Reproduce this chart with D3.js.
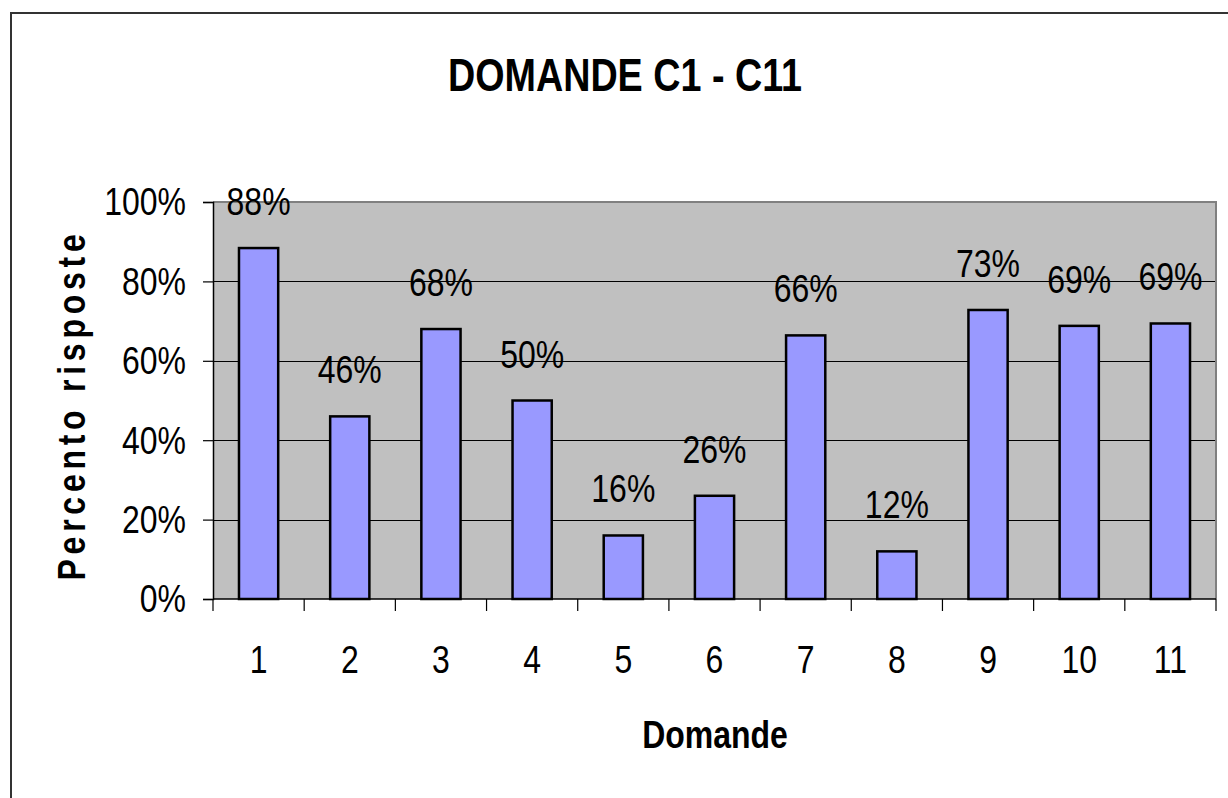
<!DOCTYPE html>
<html><head><meta charset="utf-8">
<script src="https://cdn.jsdelivr.net/npm/d3@7"></script>
<style>
body{margin:0;background:#fff;}
svg{display:block;}
</style></head>
<body><svg id="c" width="1228" height="798"></svg>
<script>
const categories = ["1","2","3","4","5","6","7","8","9","10","11"];
const values = [0.884, 0.46, 0.68, 0.50, 0.16, 0.26, 0.664, 0.12, 0.728, 0.688, 0.694];
const yTicks = [0, 0.2, 0.4, 0.6, 0.8, 1.0];
const title = "DOMANDE C1 - C11";
const xTitle = "Domande";
const yTitle = "Percento risposte";

const svg = d3.select("#c");
const sans = "'Liberation Sans', Arial, sans-serif";
const SX = 0.82;

function txt(g, px, py, str, size, weight, anchor, rot, ls) {
  const t = g.append("text")
    .attr("transform", `translate(${px},${py})${rot ? ` rotate(${rot})` : ""} scale(${SX},1)`)
    .attr("text-anchor", anchor || "middle")
    .attr("font-family", sans).attr("font-size", size).attr("font-weight", weight || "normal")
    .attr("fill", "#000").text(str);
  if (ls) t.attr("letter-spacing", ls);
  return t;
}

// outer border
svg.append("rect").attr("x", 11).attr("y", 13).attr("width", 1240).attr("height", 820)
  .attr("fill", "none").attr("stroke", "#333").attr("stroke-width", 2);

const L = 213, R = 1216, T = 202, B = 599;
const x = d3.scaleBand().domain(categories).range([L, R]).paddingInner(0.57).paddingOuter(0.285);
const y = d3.scaleLinear().domain([0, 1]).range([B, T]);

// plot background
svg.append("rect").attr("x", L).attr("y", T).attr("width", R - L).attr("height", B - T)
  .attr("fill", "#C0C0C0");

// gridlines
svg.append("g").selectAll("line").data(yTicks.filter(d => d > 0 && d < 1)).join("line")
  .attr("x1", L).attr("x2", R).attr("y1", d => Math.round(y(d)) + 0.5).attr("y2", d => Math.round(y(d)) + 0.5)
  .attr("stroke", "#000").attr("stroke-width", 1);

// plot border top/right
svg.append("path").attr("d", `M${L},${T}H${R}V${B}`).attr("fill", "none")
  .attr("stroke", "#808080").attr("stroke-width", 2);

// bars
svg.append("g").selectAll("rect").data(values).join("rect")
  .attr("x", (d, i) => x(categories[i]))
  .attr("y", d => y(d))
  .attr("width", x.bandwidth())
  .attr("height", d => B - y(d))
  .attr("fill", "#9999FF").attr("stroke", "#000").attr("stroke-width", 2.5);

// data labels
const fmt = d3.format(".0%");
const gl = svg.append("g");
values.forEach((d, i) => {
  txt(gl, x(categories[i]) + x.bandwidth() / 2, y(d) - 33, fmt(d), 39);
});

// y axis
const yAxis = d3.axisLeft(y).tickValues(yTicks).tickFormat(d3.format(".0%")).tickSize(10).tickPadding(17);
const gy = svg.append("g").attr("transform", `translate(${L},0)`).call(yAxis);
gy.select(".domain").attr("stroke", "#000").attr("stroke-width", 1.5);
gy.selectAll(".tick line").attr("stroke", "#000").attr("stroke-width", 1.2);
gy.selectAll(".tick text")
  .attr("font-family", sans).attr("font-size", 39).attr("fill", "#000")
  .attr("dy", "0.33em")
  .attr("x", -27 / SX)
  .attr("transform", `scale(${SX},1)`);

// x axis: ticks at category boundaries
const step = x.step();
const bounds = d3.range(categories.length + 1).map(i => L + i * step);
const gx = svg.append("g");
gx.append("line").attr("x1", L).attr("x2", R).attr("y1", B).attr("y2", B).attr("stroke", "#000").attr("stroke-width", 1.5);
gx.selectAll("line.t").data(bounds).join("line").attr("class", "t")
  .attr("x1", d => d).attr("x2", d => d).attr("y1", B).attr("y2", B + 12)
  .attr("stroke", "#000").attr("stroke-width", 1.2);
categories.forEach(c => txt(gx, x(c) + x.bandwidth() / 2, 673, c, 39));

// titles
txt(svg, 625, 91, title, 46, "bold");
txt(svg, 715, 748, xTitle, 39, "bold");
txt(svg, 85, 405, yTitle, 39, "bold", "middle", -90, 5.8);
</script></body></html>
